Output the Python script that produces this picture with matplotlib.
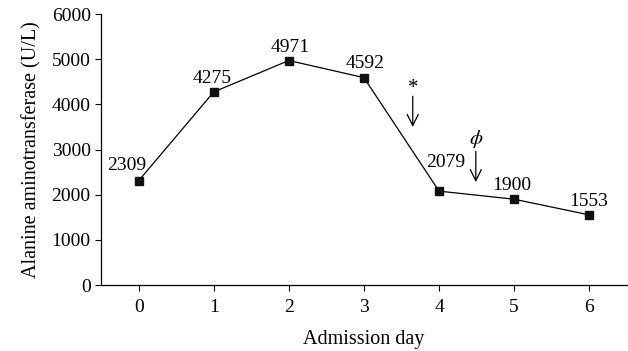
import matplotlib
matplotlib.use("Agg")
import matplotlib.pyplot as plt

plt.rcParams['font.family'] = ['Liberation Serif', 'DejaVu Serif']
plt.rcParams['mathtext.fontset'] = 'stix'

days = [0, 1, 2, 3, 4, 5, 6]
alt = [2309, 4275, 4971, 4592, 2079, 1900, 1553]
# label offsets in pixels relative to each marker
label_dx = [-12, -2, 1, 1, 7, -2, -1]
label_dy = [15, 13, 13, 14, 29, 14, 13]

# event arrows: symbol, x, arrow top, arrow bottom, symbol y
events = ['*', r'$\phi$']
event_x = [3.65, 4.49]
event_top = [4180, 2960]
event_bot = [3500, 2280]
event_sym_y = [4360, 3240]

fig = plt.figure(figsize=(6.28, 3.51), dpi=100)
ax = fig.add_axes([0.161, 0.188, 0.837, 0.772])

ax.plot(days, alt, color='black', lw=0.9, marker='s', markersize=6,
        markerfacecolor='#111111', markeredgecolor='#111111')

for d, v, dx, dy in zip(days, alt, label_dx, label_dy):
    ax.annotate(str(v), (d, v), xytext=(dx, dy), textcoords='offset pixels',
                ha='center', va='center', fontsize=14)

for s, x, y0, y1, ys in zip(events, event_x, event_top, event_bot, event_sym_y):
    ax.annotate('', xy=(x, y1), xytext=(x, y0),
                arrowprops=dict(arrowstyle='->', color='black', lw=0.9,
                                mutation_scale=20, shrinkA=0, shrinkB=0))
    ax.text(x, ys, s, ha='center', va='center', fontsize=15)

ax.set_xlim(-0.5, 6.5)
ax.set_ylim(0, 6000)
ax.set_xticks(days)
ax.set_yticks(range(0, 6001, 1000))
ax.tick_params(axis='both', labelsize=14, width=0.8, length=4, direction='out')
ax.tick_params(axis='x', pad=6)
ax.spines['top'].set_visible(False)
ax.spines['right'].set_visible(False)
ax.spines['left'].set_linewidth(0.9)
ax.spines['bottom'].set_linewidth(0.9)

ax.set_xlabel('Admission day', fontsize=14.5, labelpad=10)
ax.set_ylabel('Alanine aminotransferase (U/L)', fontsize=14.5, labelpad=7)

fig.savefig('out.png', dpi=100)
